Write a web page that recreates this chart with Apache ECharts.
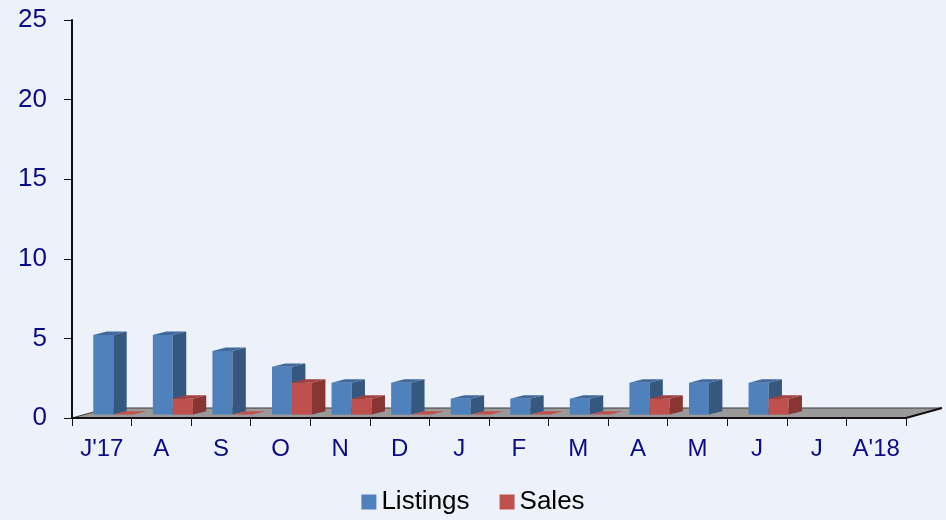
<!DOCTYPE html>
<html>
<head>
<meta charset="utf-8">
<script src="https://cdn.jsdelivr.net/npm/echarts@6/dist/echarts.min.js"></script>
<style>
  html, body { margin: 0; padding: 0; background: #edf2fa; }
  #chart { width: 946px; height: 520px; }
</style>
</head>
<body>
<div id="chart"></div>
<script>
const months = ["J'17", 'A', 'S', 'O', 'N', 'D', 'J', 'F', 'M', 'A', 'M', 'J', 'J', "A'18"]
const listings = [5, 5, 4, 3, 2, 2, 1, 1, 1, 2, 2, 2, null, null]
const sales = [0, 1, 0, 2, 1, 0, 0, 0, 0, 1, null, 1, null, null]

const colors = {
  bg: '#edf2fa',
  label: '#0b0b86',
  blue: { front: '#4f81bd', side: '#36587f', top: '#41699b' },
  red: { front: '#c0504d', side: '#883533', top: '#a3413e' },
  floor: '#9a9a9a'
}

// 3D 偏移（像素）
const depth = { dx: 13.4, dy: -3.4 }
const shift = { dx: 11.5, dy: -3.4 }
const floorDepth = { dx: 36, dy: -10 }

const makeBar = (face, isFirst) => (params, api) => {
  const idx = api.value(0)
  const v = api.value(1)
  if (v == null || isNaN(v)) return
  const p = api.coord([idx, v])
  const base = api.coord([idx, 0])
  const bw = api.size([1, 0])[0]
  const w = bw * 0.336
  const ox = bw * 0.193
  const left = p[0] + ox - (isFirst ? w : 0)
  const top = p[1] + shift.dy
  const bottom = base[1] + shift.dy
  const right = left + w
  const children = []
  if (bottom - top > 0.5) {
    children.push({
      type: 'rect',
      shape: { x: left, y: top, width: w, height: bottom - top },
      style: { fill: face.front }
    })
    children.push({
      type: 'polygon',
      shape: { points: [[right, top], [right + depth.dx, top + depth.dy], [right + depth.dx, bottom + depth.dy], [right, bottom]] },
      style: { fill: face.side }
    })
  }
  children.push({
    type: 'polygon',
    shape: { points: [[left, top], [left + depth.dx, top + depth.dy], [right + depth.dx, top + depth.dy], [right, top]] },
    style: { fill: bottom - top > 0.5 ? face.top : face.front }
  })
  return { type: 'group', children }
}

const renderFloor = (params, api) => {
  const cs = params.coordSys
  const y0 = api.coord([0, 0])[1]
  const x0 = cs.x
  const x1 = cs.x + cs.width
  const fx = floorDepth.dx, fy = floorDepth.dy
  return {
    type: 'group',
    children: [
      {
        type: 'polygon',
        shape: { points: [[x0, y0], [x1, y0], [x1 + fx, y0 + fy], [x0 + fx, y0 + fy]] },
        style: { fill: colors.floor, stroke: '#3a3a3a', lineWidth: 1 }
      },
      {
        type: 'polyline',
        shape: { points: [[x0, y0], [x1, y0], [x1 + fx, y0 + fy]] },
        style: { fill: null, stroke: '#111', lineWidth: 2 }
      }
    ]
  }
}

const chart = echarts.init(document.getElementById('chart'))
chart.setOption({
  backgroundColor: colors.bg,
  animation: false,
  grid: { left: 72, right: 40, top: 20, bottom: 102 },
  legend: {
    data: ['Listings', 'Sales'],
    top: 484,
    left: 'center',
    icon: 'rect',
    itemWidth: 15,
    itemHeight: 15,
    itemGap: 30,
    textStyle: { color: '#000', fontSize: 26, fontFamily: 'Liberation Sans, Arial, sans-serif' }
  },
  xAxis: {
    type: 'category',
    data: months,
    axisLine: { lineStyle: { color: '#111', width: 2 } },
    axisTick: { show: true, interval: 0, length: 8, lineStyle: { color: '#111', width: 1 } },
    axisLabel: { interval: 0, hideOverlap: false, color: colors.label, fontSize: 24, margin: 19, fontFamily: 'Liberation Sans, Arial, sans-serif' },
    splitLine: { show: false }
  },
  yAxis: {
    type: 'value',
    min: 0,
    max: 25,
    interval: 5,
    axisLine: { show: true, lineStyle: { color: '#111', width: 2 } },
    axisTick: { show: true, length: 8, lineStyle: { color: '#111', width: 1 } },
    axisLabel: { color: colors.label, fontSize: 26, margin: 25, fontFamily: 'Liberation Sans, Arial, sans-serif' },
    splitLine: { show: false }
  },
  series: [
    {
      name: 'floor',
      type: 'custom',
      renderItem: renderFloor,
      data: [[0, 0]],
      silent: true
    },
    {
      name: 'Listings',
      type: 'custom',
      renderItem: makeBar(colors.blue, true),
      itemStyle: { color: colors.blue.front },
      encode: { x: 0, y: 1 },
      data: listings.map((v, i) => [i, v])
    },
    {
      name: 'Sales',
      type: 'custom',
      renderItem: makeBar(colors.red, false),
      itemStyle: { color: colors.red.front },
      encode: { x: 0, y: 1 },
      data: sales.map((v, i) => [i, v])
    }
  ]
})
</script>
</body>
</html>
